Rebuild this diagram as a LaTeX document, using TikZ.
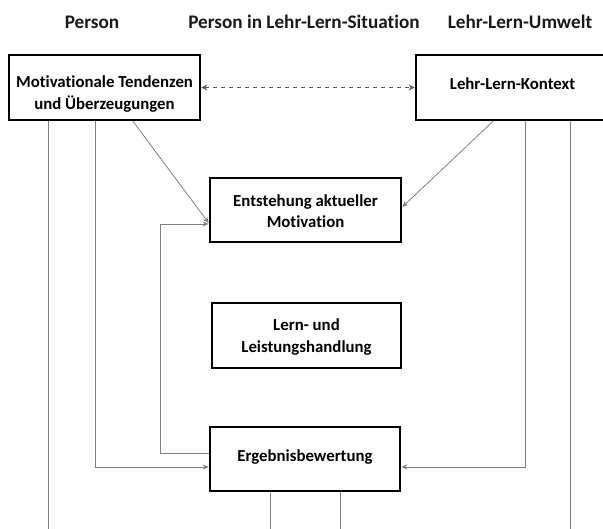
\documentclass[tikz,border=0pt]{standalone}
\usepackage{fontspec}
\setmainfont[Ligatures=NoCommon]{Carlito}
\usetikzlibrary{arrows.meta}
\begin{document}
\begin{tikzpicture}[x=1pt,y=-1pt,
  box/.style={draw=black,line width=2.6pt,inner sep=0pt},
  txt/.style={inner sep=0pt,align=center,text=black,
    font=\bfseries\fontsize{16.8}{21.5}\selectfont},
  hdr/.style={inner sep=0pt,text=black!90,font=\bfseries\fontsize{19.2}{22}\selectfont},
  conn/.style={draw=black!50,line width=0.8pt,-{Stealth[length=6pt,width=5pt]}},
  plain/.style={draw=black!50,line width=0.8pt},
  dual/.style={draw=black!65,line width=1.4pt,dash pattern=on 4pt off 4pt,
    {Stealth[length=6pt,width=6pt]}-{Stealth[length=6pt,width=6pt]}}]
\useasboundingbox[fill=white] (0,0) rectangle (603,529);
% headers
\node[hdr] (h1) at (92,22) {Person};
\node[hdr] (h2) at (304,22) {Person in Lehr-Lern-Situation};
\node[hdr] (h3) at (520,22) {Lehr-Lern-Umwelt};
% boxes
\node[box,minimum width=191pt,minimum height=65pt] (M) at (104.5,87.5) {};
\node[txt] (Mt) at (104.5,94) {Motivationale Tendenzen\\und Überzeugungen};
\node[box,minimum width=196pt,minimum height=65pt] (L) at (514,87.5) {};
\node[txt] (Lt) at (512.5,84) {Lehr-Lern-Kontext};
\node[box,minimum width=191pt,minimum height=64pt] (E) at (305.5,210) {};
\node[txt] (Et) at (305.5,211) {Entstehung aktueller\\Motivation};
\node[box,minimum width=189pt,minimum height=65pt] (H) at (306.5,335.5) {};
\node[txt] (Ht) at (306.5,337) {Lern- und\\Leistungshandlung};
\node[box,minimum width=190pt,minimum height=64pt] (B) at (305,459) {};
\node[txt] (Bt) at (305,457) {Ergebnisbewertung};
% free ends
\coordinate (b1) at (48,529);
\coordinate (b2) at (570,529);
\coordinate (b3) at (270,529);
\coordinate (b4) at (340,529);
\coordinate (k1) at (95,467);
\coordinate (k2) at (525,467);
\coordinate (f1) at (160,453);
\coordinate (f2) at (160,224);
% connectors
\draw[dual] (M.east) -- (L.west);
\draw[plain] (M.south -| b1) -- (b1);
\draw[conn] (M.south -| k1) -- (k1) -- (B.west |- k1);
\draw[conn] ([xshift=28.5pt]M.south) -- ([yshift=-13pt]E.west);
\draw[conn] (L.south -| 493,0) -- ([yshift=3pt]E.east);
\draw[conn] (L.south -| k2) -- (k2) -- (B.east |- k2);
\draw[plain] (L.south -| b2) -- (b2);
\draw[conn] (B.west |- f1) -- (f1) -- (f2) -- (E.west |- f2);
\draw[plain] (B.south -| b3) -- (b3);
\draw[plain] (B.south -| b4) -- (b4);
\end{tikzpicture}
\end{document}
